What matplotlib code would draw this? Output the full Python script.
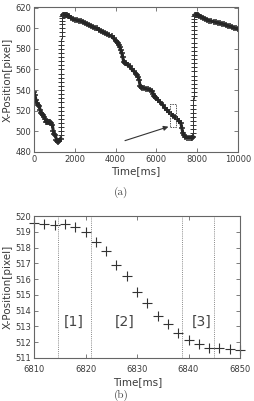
import matplotlib
matplotlib.use("Agg")
import matplotlib.pyplot as plt
from matplotlib.patches import Rectangle

# ---------- data: panel (a) ----------
seg1_t = [0, 50, 100, 150, 200, 250, 300, 350, 400, 450, 500, 550, 600, 650, 700,
          750, 800, 850, 900, 950, 1000, 1050, 1100, 1150, 1200, 1250, 1300]
seg1_v = [538, 535, 530, 527, 526, 525, 521, 518, 517, 516, 514, 512, 509, 509, 509,
          509, 509, 508, 506, 500, 497, 496, 492, 491, 490, 491, 493]

jump1_t = [1302, 1304, 1306, 1308, 1310, 1312, 1314, 1316, 1318, 1320, 1322, 1324,
           1326, 1328, 1330, 1332, 1334, 1336, 1338, 1340, 1342, 1344, 1346, 1348,
           1350, 1352, 1354, 1356, 1358, 1360, 1362]
jump1_v = [496, 500, 504, 508, 512, 516, 520, 524, 528, 532, 536, 540,
           544, 548, 552, 556, 560, 564, 568, 572, 576, 580, 584, 588,
           592, 596, 600, 604, 607, 610, 612]

seg2_t = [1400, 1450, 1500, 1550, 1600, 1650, 1700, 1800, 1900, 2000, 2100, 2200, 2300,
          2400, 2500, 2600, 2700, 2800, 2900, 3000, 3100, 3200, 3300, 3400, 3500,
          3600, 3700, 3800, 3900, 4000, 4050, 4100, 4150, 4200, 4250, 4300, 4350,
          4400, 4450, 4500, 4600, 4700, 4800, 4900, 5000, 5050, 5100, 5150, 5200,
          5250, 5300, 5400, 5500, 5600, 5700, 5800, 5850, 5900, 5950, 6000, 6100,
          6200, 6300, 6400, 6500, 6600, 6700, 6800, 6900, 7000, 7100, 7200, 7250,
          7300, 7350, 7400, 7500, 7600, 7700, 7750, 7800]
seg2_v = [613, 613, 613, 612.5, 612.5, 612, 612, 610, 609, 608, 608, 607, 607,
          606, 605, 604, 603, 602, 601, 600, 600, 598, 597, 596, 595,
          594, 593, 592, 590, 588, 587, 586, 584, 582, 579, 576, 572,
          567, 566, 566, 564, 563, 560, 558, 556, 555, 553, 550, 544,
          543, 542, 542, 541, 541, 540, 539, 536, 534, 533, 532, 530,
          528, 526, 523, 521, 519, 517, 515, 514, 512, 510, 508, 503,
          498, 496, 495, 494, 494, 494, 494, 495]

jump2_t = [7802, 7804, 7806, 7808, 7810, 7812, 7814, 7816, 7818, 7820, 7822, 7824,
           7826, 7828, 7830, 7832, 7834, 7836, 7838, 7840, 7842, 7844, 7846, 7848,
           7850, 7852, 7854, 7856, 7858, 7860]
jump2_v = [498, 502, 506, 510, 514, 518, 522, 526, 530, 534, 538, 542,
           546, 550, 554, 558, 562, 566, 570, 574, 578, 582, 586, 590,
           594, 598, 602, 606, 609, 612]

seg3_t = [7900, 7950, 8000, 8050, 8100, 8200, 8300, 8400, 8500, 8600, 8700, 8800,
          8900, 9000, 9100, 9200, 9300, 9400, 9500, 9600, 9700, 9800, 9900, 10000]
seg3_v = [613, 613, 613, 612.5, 612, 611, 610, 609, 608, 607, 607, 606,
          606, 605, 605, 604, 604, 603, 602, 602, 601, 600, 600, 599]

# zoom box and arrow (panel a)
box_t = [6650, 6980]
box_v = [504.5, 526.5]
arrow_from = (4460, 491)
arrow_to = (6590, 504.5)

# ---------- data: panel (b) ----------
time_b = [6810, 6812, 6814, 6816, 6818, 6820, 6822, 6824, 6826, 6828, 6830,
          6832, 6834, 6836, 6838, 6840, 6842, 6844, 6846, 6848, 6850]
pos_b = [519.57, 519.49, 519.43, 519.49, 519.33, 519.00, 518.38, 517.75, 516.91,
         516.22, 515.19, 514.50, 513.68, 513.15, 512.58, 512.13, 511.86, 511.62,
         511.66, 511.60, 511.49]
phase_lines = [6814.6, 6821.1, 6838.7, 6845.0]
phase_labels = ["[1]", "[2]", "[3]"]
phase_label_x = [6817.7, 6827.5, 6842.5]
phase_label_y = 513.3

W, H = 255, 401
fig = plt.figure(figsize=(W / 100, H / 100), dpi=100)

TXT = "#3a3a3a"
SP = "#666666"
MK = "#262626"


def style(ax, xpad=2):
    for s in ax.spines.values():
        s.set_color(SP)
        s.set_linewidth(0.8)
    ax.tick_params(direction="in", length=3, width=0.6, colors=SP,
                   labelcolor=TXT, labelsize=6, top=True, right=True, pad=2)
    ax.tick_params(axis="x", pad=xpad)


def px_axes(l, r, t, b):
    return fig.add_axes([l / W, 1 - b / H, (r - l) / W, (b - t) / H])


# panel (a)
ax1 = px_axes(34, 238, 7.5, 152)
for ts, vs in [(seg1_t, seg1_v), (seg2_t, seg2_v), (seg3_t, seg3_v)]:
    ax1.plot(ts, vs, color=MK, lw=2.2, marker="+", ms=4.5, mew=1.1)
for ts, vs in [(jump1_t, jump1_v), (jump2_t, jump2_v)]:
    ax1.plot(ts, vs, color="#333333", ls="none", marker="+", ms=4, mew=0.7)
ax1.set_xlim(0, 10000)
ax1.set_ylim(480, 620)
ax1.set_xticks(range(0, 10001, 2000))
ax1.set_yticks(range(480, 621, 20))
style(ax1)
ax1.add_patch(Rectangle((box_t[0], box_v[0]), box_t[1] - box_t[0], box_v[1] - box_v[0],
                        fill=False, ls=(0, (1.5, 1)), lw=0.7, ec="#555555", zorder=5))
ax1.annotate("", xy=arrow_to, xytext=arrow_from,
             arrowprops=dict(arrowstyle="-|>", color="#333333", lw=0.8,
                             mutation_scale=7, shrinkA=0, shrinkB=0))

fig.text(136 / W, 1 - 171 / H, "Time[ms]", ha="center", va="center",
         fontsize=7.5, color=TXT)
fig.text(8 / W, 1 - 80 / H, "X-Position[pixel]", ha="center", va="center",
         rotation=90, fontsize=7.5, color=TXT)
fig.text(121 / W, 1 - 192 / H, "(a)", ha="center", va="center",
         fontsize=8, color="#444444", family="cmr10")

# panel (b)
ax2 = px_axes(34, 240, 216, 358)
ax2.plot(time_b, pos_b, ls="none", marker="+", ms=6.5, mew=0.8, color="#333333",
         clip_on=False)
for x in phase_lines:
    ax2.axvline(x, color="#888888", lw=0.7, ls=(0, (1, 1.2)))
for lab, x in zip(phase_labels, phase_label_x):
    ax2.text(x, phase_label_y, lab, ha="center", va="center", fontsize=10,
             color="#444444")
ax2.set_xlim(6810, 6850)
ax2.set_ylim(511, 520)
ax2.set_xticks(range(6810, 6851, 10))
ax2.set_yticks(range(511, 521))
style(ax2, xpad=5)

fig.text(138 / W, 1 - 382 / H, "Time[ms]", ha="center", va="center",
         fontsize=7.5, color=TXT)
fig.text(8 / W, 1 - 287 / H, "X-Position[pixel]", ha="center", va="center",
         rotation=90, fontsize=7.5, color=TXT)
fig.text(121 / W, 1 - 395 / H, "(b)", ha="center", va="center",
         fontsize=8, color="#444444", family="cmr10")

fig.savefig("out.png", dpi=100)
